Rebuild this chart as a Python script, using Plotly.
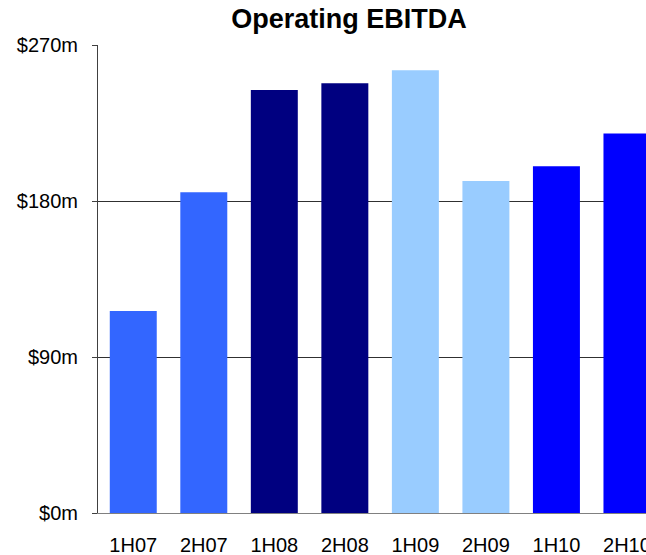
import plotly.graph_objects as go

# Half-year operating EBITDA, $m
periods = ["1H07", "2H07", "1H08", "2H08", "1H09", "2H09", "1H10", "2H10"]
ebitda = [116.5, 185, 244, 248, 255.5, 191.5, 200, 219]
bar_colors = ["#3366FF", "#3366FF", "#000080", "#000080",
              "#99CCFF", "#99CCFF", "#0000FF", "#0000FF"]
y_ticks = [0, 90, 180, 270]
y_tick_text = ["$0m", "$90m", "$180m", "$270m"]

fig = go.Figure(
    go.Bar(
        x=list(range(len(periods))),
        y=ebitda,
        marker=dict(color=bar_colors, line=dict(width=0)),
        hoverinfo="skip",
    )
)

fig.update_layout(
    width=646,
    height=555,
    margin=dict(l=98, r=0, t=45, b=42),
    paper_bgcolor="white",
    plot_bgcolor="white",
    bargap=0.334,
    showlegend=False,
    font=dict(family="Arial, Liberation Sans, sans-serif", size=20, color="#000000"),
    title=dict(
        text="<b>Operating EBITDA</b>",
        font=dict(size=27, color="#000000"),
        xref="paper", x=0.458, xanchor="center",
        yref="container", y=1 - 19 / 555, yanchor="middle",
        automargin=False,
    ),
    xaxis=dict(
        range=[-0.5, 7.27],
        automargin=False,
        tickmode="array",
        tickvals=list(range(len(periods))),
        ticktext=periods,
        showgrid=False,
        showline=True,
        linecolor="#808080",
        linewidth=1,
        ticks="",
        ticklabelstandoff=14,
        ticklabeloverflow="allow",
        zeroline=False,
    ),
    yaxis=dict(
        range=[0, 270],
        automargin=False,
        tickmode="array",
        tickvals=y_ticks,
        ticktext=y_tick_text,
        showgrid=True,
        gridcolor="#303030",
        gridwidth=1,
        showline=True,
        linecolor="#404040",
        linewidth=1,
        ticks="outside",
        ticklen=5,
        tickcolor="#404040",
        ticklabelstandoff=10,
        zeroline=False,
    ),
)

fig.write_html("out.html")
